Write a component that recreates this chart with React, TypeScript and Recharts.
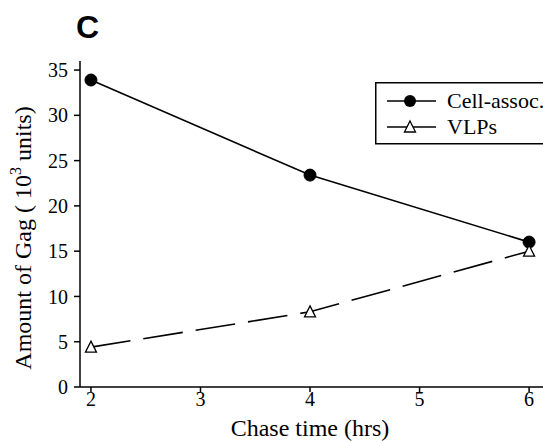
import React from "react";
import { LineChart, Line, XAxis, YAxis } from "recharts";

const chaseTimes = [2, 4, 6];
const cellAssoc = [33.9, 23.4, 16.0];
const vlps = [4.4, 8.3, 15.0];
const xTicks = [2, 3, 4, 5, 6];
const yTicks = [0, 5, 10, 15, 20, 25, 30, 35];
const seriesNames = ["Cell-assoc.", "VLPs"];

const data = chaseTimes.map((t, i) => ({ t, cell: cellAssoc[i], vlp: vlps[i] }));

const SERIF = "Liberation Serif";

const css = `
.recharts-cartesian-axis-tick-value, .recharts-cartesian-axis-tick-value tspan {
  font-family: 'Liberation Serif', serif !important;
  font-size: 20px !important;
  fill: #000 !important;
}
`;

const Triangle = (props: any) => {
  const { cx, cy } = props;
  if (cx == null || cy == null) return null;
  const w = 11;
  const h = 10;
  return (
    <path
      d={`M${cx},${cy - h / 2 - 1} L${cx + w / 2},${cy + h / 2} L${cx - w / 2},${cy + h / 2} Z`}
      fill="#fff"
      stroke="#000"
      strokeWidth={1.3}
    />
  );
};

const Circle = (props: any) => {
  const { cx, cy } = props;
  if (cx == null || cy == null) return null;
  return <circle cx={cx} cy={cy} r={6} fill="#000" stroke="#000" />;
};

const LegendBox = () => (
  <svg width={180} height={64} style={{ position: "absolute", left: 375, top: 82 }}>
    <rect x={0.75} y={0.75} width={200} height={61} fill="#fff" stroke="#000" strokeWidth={1.5} />
    <line x1={12} x2={61} y1={19} y2={19} stroke="#000" strokeWidth={1.6} />
    <circle cx={35} cy={19} r={6} fill="#000" />
    <text x={72} y={26} style={{ fontFamily: SERIF, fontSize: 22 }} fill="#000">{seriesNames[0]}</text>
    <line x1={12} x2={61} y1={45} y2={45} stroke="#000" strokeWidth={1.6} />
    <Triangle cx={35} cy={45} />
    <text x={72} y={52} style={{ fontFamily: SERIF, fontSize: 22 }} fill="#000">{seriesNames[1]}</text>
  </svg>
);

const YLabel = () => (
  <text
    x={0}
    y={0}
    transform="translate(31,238) rotate(-90)"
    textAnchor="middle"
    style={{ fontFamily: SERIF, fontSize: 24 }}
    fill="#000"
  >
    Amount of Gag (  10
    <tspan dy={-10} style={{ fontSize: 16 }}>3</tspan>
    <tspan dy={10}>  units)</tspan>
  </text>
);

const XLabel = () => (
  <text x={310} y={436} textAnchor="middle" style={{ fontFamily: SERIF, fontSize: 24 }} fill="#000">
    Chase time (hrs)
  </text>
);

const tickStyle = { fill: "#000", fontSize: 20, fontFamily: SERIF };
const axisLineStyle = { stroke: "#000", strokeWidth: 1.5 };
const tickLineStyle = { stroke: "#000", strokeWidth: 1.5 };

export default function App() {
  return (
    <div
      style={{
        position: "fixed",
        left: 0,
        top: 0,
        width: 543,
        height: 441,
        overflow: "hidden",
        background: "#fff",
        fontFamily: SERIF,
      }}
    >
      <style>{css}</style>
      <svg width={140} height={50} style={{ position: "absolute", left: 0, top: 0 }}>
        <text x={76} y={38} style={{ fontFamily: "Liberation Sans", fontWeight: "bold", fontSize: 32 }} fill="#000">C</text>
      </svg>
      <div style={{ position: "absolute", left: 0, top: 0 }}>
        <LineChart
          width={551}
          height={441}
          data={data}
          margin={{ top: 61, right: 0, bottom: 0, left: 20 }}
          style={{ fontFamily: SERIF }}
        >
          <XAxis
            dataKey="t"
            type="number"
            domain={[1.9, 6.2]}
            ticks={xTicks}
            allowDataOverflow
            height={54}
            axisLine={axisLineStyle}
            tickLine={tickLineStyle}
            tickSize={5}
            tickMargin={0}
            tick={tickStyle}
            label={<XLabel />}
          />
          <XAxis
            xAxisId="top"
            orientation="top"
            dataKey="t"
            type="number"
            domain={[1.9, 6.2]}
            height={0}
            tick={false}
            tickLine={false}
            axisLine={axisLineStyle}
          />
          <YAxis
            type="number"
            domain={[0, 36]}
            ticks={yTicks}
            allowDataOverflow
            width={60}
            axisLine={axisLineStyle}
            tickLine={tickLineStyle}
            tickSize={6}
            tickMargin={6}
            tick={tickStyle}
            label={<YLabel />}
          />
          <Line
            dataKey="cell"
            name={seriesNames[0]}
            stroke="#000"
            strokeWidth={1.6}
            dot={<Circle />}
            isAnimationActive={false}
          />
          <Line
            dataKey="vlp"
            name={seriesNames[1]}
            stroke="#000"
            strokeWidth={1.6}
            strokeDasharray="40 13"
            dot={<Triangle />}
            isAnimationActive={false}
          />
        </LineChart>
      </div>
      <LegendBox />
    </div>
  );
}
